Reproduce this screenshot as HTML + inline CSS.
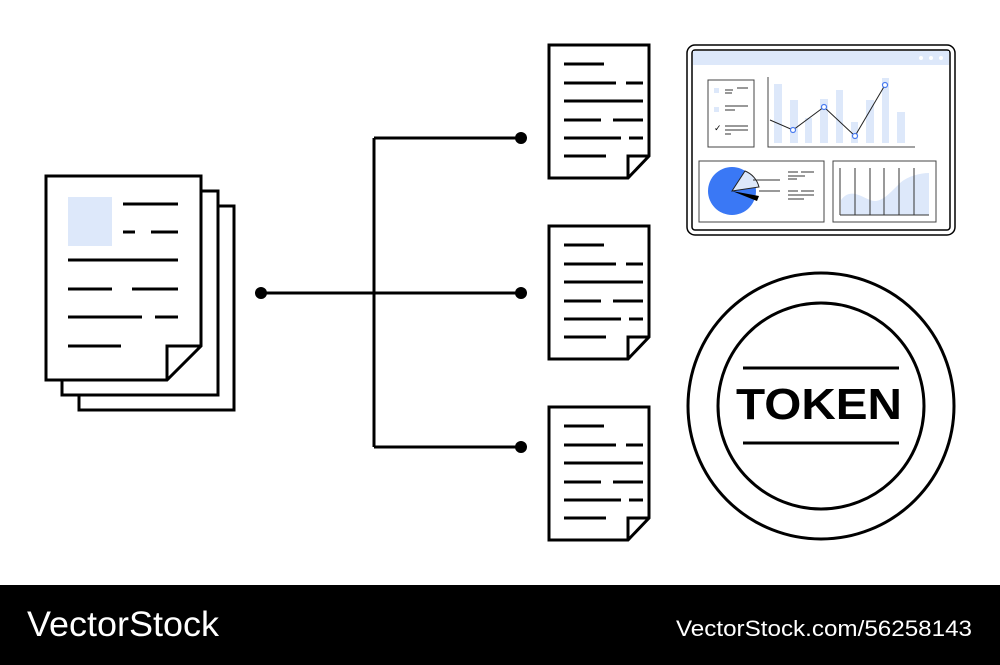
<!DOCTYPE html>
<html><head><meta charset="utf-8"><style>
html,body{margin:0;padding:0;background:#fff;}
svg{display:block;}
</style></head><body>
<svg width="1000" height="665" viewBox="0 0 1000 665" xmlns="http://www.w3.org/2000/svg">
<defs>
<g id="doc">
<path d="M0,0 H100 V111 L79,133 H0 Z" fill="#fff" stroke="#000" stroke-width="3"/>
<path d="M79,133 V111 H100" fill="none" stroke="#000" stroke-width="3"/>
<g stroke="#000" stroke-width="3">
<line x1="15" y1="19" x2="55" y2="19"/>
<line x1="15" y1="38" x2="67" y2="38"/><line x1="77" y1="38" x2="94" y2="38"/>
<line x1="15" y1="56" x2="94" y2="56"/>
<line x1="15" y1="75" x2="52" y2="75"/><line x1="64" y1="75" x2="94" y2="75"/>
<line x1="15" y1="93" x2="72" y2="93"/><line x1="80" y1="93" x2="94" y2="93"/>
<line x1="15" y1="111" x2="57" y2="111"/>
</g>
</g>
</defs>

<!-- big stacked doc -->
<rect x="79" y="206" width="155" height="204" fill="#fff" stroke="#000" stroke-width="3"/>
<rect x="62" y="191" width="156" height="204" fill="#fff" stroke="#000" stroke-width="3"/>
<path d="M46,176 H201 V346 L167,380 H46 Z" fill="#fff" stroke="#000" stroke-width="3"/>
<path d="M167,380 V346 H201" fill="none" stroke="#000" stroke-width="3"/>
<rect x="68" y="197" width="44" height="49" fill="#dde8fa"/>
<g stroke="#000" stroke-width="3">
<line x1="123" y1="204" x2="178" y2="204"/>
<line x1="123" y1="232" x2="135" y2="232"/><line x1="151" y1="232" x2="178" y2="232"/>
<line x1="68" y1="260" x2="178" y2="260"/>
<line x1="68" y1="289" x2="112" y2="289"/><line x1="132" y1="289" x2="178" y2="289"/>
<line x1="68" y1="317" x2="142" y2="317"/><line x1="155" y1="317" x2="178" y2="317"/>
<line x1="68" y1="346" x2="121" y2="346"/>
</g>

<!-- connectors -->
<g stroke="#000" stroke-width="3" fill="none">
<line x1="261" y1="293" x2="521" y2="293"/>
<line x1="374" y1="138" x2="374" y2="447"/>
<line x1="374" y1="138" x2="521" y2="138"/>
<line x1="374" y1="447" x2="521" y2="447"/>
</g>
<g fill="#000">
<circle cx="261" cy="293" r="6"/>
<circle cx="521" cy="138" r="6"/>
<circle cx="521" cy="293" r="6"/>
<circle cx="521" cy="447" r="6"/>
</g>

<use href="#doc" x="549" y="45"/>
<use href="#doc" x="549" y="226"/>
<use href="#doc" x="549" y="407"/>

<!-- dashboard -->
<rect x="687" y="45" width="268" height="190" rx="8" fill="#fff" stroke="#000" stroke-width="1.5"/>
<rect x="692" y="50" width="258" height="180" rx="3" fill="#fff" stroke="#000" stroke-width="1.5"/>
<rect x="693" y="51" width="256" height="14" fill="#dde8fa"/>
<g fill="#fff"><circle cx="921" cy="58" r="2"/><circle cx="931" cy="58" r="2"/><circle cx="941" cy="58" r="2"/></g>
<rect x="708" y="80" width="46" height="67" fill="#fff" stroke="#444" stroke-width="1"/>
<g fill="#dde8fa"><rect x="714" y="88" width="5" height="5"/><rect x="714" y="107" width="5" height="5"/></g>
<g stroke="#333" stroke-width="1">
<line x1="725" y1="90" x2="733" y2="90"/><line x1="737" y1="88" x2="748" y2="88"/><line x1="725" y1="93" x2="732" y2="93"/>
<line x1="725" y1="106" x2="748" y2="106"/><line x1="725" y1="110" x2="735" y2="110"/>
<line x1="725" y1="126" x2="748" y2="126"/><line x1="725" y1="130" x2="748" y2="130"/><line x1="725" y1="134" x2="731" y2="134"/>
</g>
<text x="714" y="131" font-family="DejaVu Sans, sans-serif" font-size="9">✓</text>
<g fill="#dde8fa">
<rect x="774" y="84" width="8" height="59"/><rect x="790" y="100" width="8" height="43"/>
<rect x="805" y="118" width="7" height="25"/><rect x="820" y="99" width="8" height="44"/>
<rect x="836" y="90" width="7" height="53"/><rect x="851" y="122" width="7" height="21"/>
<rect x="866" y="100" width="8" height="43"/><rect x="882" y="78" width="7" height="65"/>
<rect x="897" y="112" width="8" height="31"/>
</g>
<path d="M768,77 V147 H915" fill="none" stroke="#444" stroke-width="1"/>
<polyline points="770,120 793,130 824,107 855,136 885,85" fill="none" stroke="#222" stroke-width="1"/>
<g fill="#fff" stroke="#4a7cf0" stroke-width="1.2">
<circle cx="793" cy="130" r="2.5"/><circle cx="824" cy="107" r="2.5"/><circle cx="855" cy="136" r="2.5"/><circle cx="885" cy="85" r="2.5"/>
</g>
<rect x="699" y="161" width="125" height="61" fill="#fff" stroke="#444" stroke-width="1"/>
<circle cx="732" cy="191" r="24" fill="#3a78f5"/>
<path d="M732,191 L745,171 A23,23 0 0 1 759,187 Z" fill="#dde8fa" stroke="#222" stroke-width="1"/>
<path d="M732,191 L759,196 L757,201 Z" fill="#000"/>
<g stroke="#333" stroke-width="1">
<line x1="753" y1="180" x2="780" y2="180"/><line x1="759" y1="191" x2="780" y2="191"/>
<line x1="788" y1="172" x2="798" y2="172"/><line x1="801" y1="172" x2="814" y2="172"/><line x1="788" y1="176" x2="805" y2="176"/><line x1="788" y1="179" x2="797" y2="179"/>
<line x1="788" y1="191" x2="798" y2="191"/><line x1="801" y1="191" x2="814" y2="191"/><line x1="788" y1="195" x2="814" y2="195"/><line x1="788" y1="199" x2="804" y2="199"/>
</g>
<rect x="833" y="161" width="103" height="61" fill="#fff" stroke="#444" stroke-width="1"/>
<path d="M841,215 V200 C850,188 860,196 870,200 C880,204 888,195 900,183 C908,176 920,173 929,173 V215 Z" fill="#dde8fa"/>
<g stroke="#333" stroke-width="1">
<line x1="840" y1="168" x2="840" y2="215"/><line x1="855" y1="168" x2="855" y2="215"/><line x1="870" y1="168" x2="870" y2="215"/>
<line x1="884" y1="168" x2="884" y2="215"/><line x1="899" y1="168" x2="899" y2="215"/><line x1="914" y1="168" x2="914" y2="215"/>
<line x1="840" y1="215" x2="929" y2="215"/>
</g>

<!-- token -->
<circle cx="821" cy="406" r="133" fill="#fff" stroke="#000" stroke-width="3"/>
<circle cx="821" cy="406" r="103" fill="#fff" stroke="#000" stroke-width="3"/>
<line x1="743" y1="368" x2="899" y2="368" stroke="#000" stroke-width="3"/>
<line x1="743" y1="443" x2="899" y2="443" stroke="#000" stroke-width="3"/>
<text x="736" y="419" font-family="Liberation Sans, sans-serif" font-weight="bold" font-size="44" textLength="166" lengthAdjust="spacingAndGlyphs">TOKEN</text>

<!-- footer -->
<rect x="0" y="585" width="1000" height="80" fill="#000"/>
<text x="27" y="636" fill="#fff" font-family="Liberation Sans, sans-serif" font-size="35" textLength="192" lengthAdjust="spacingAndGlyphs">VectorStock</text>
<text x="972" y="636" fill="#fff" font-family="Liberation Sans, sans-serif" font-size="22" text-anchor="end" textLength="296" lengthAdjust="spacingAndGlyphs">VectorStock.com/56258143</text>
</svg>
</body></html>
